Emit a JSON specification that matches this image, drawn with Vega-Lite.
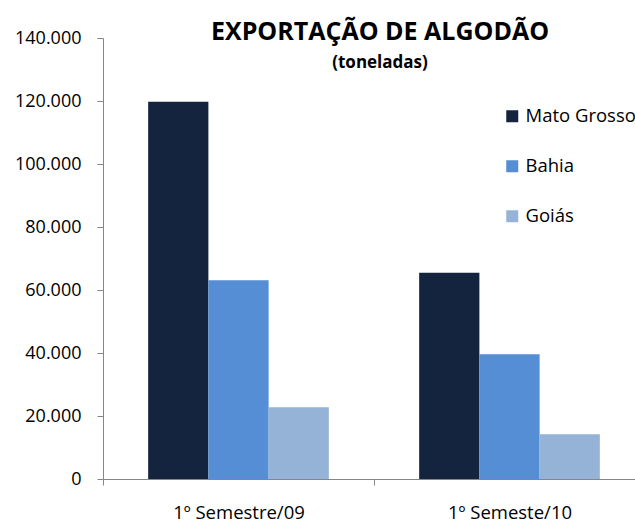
{
  "$schema": "https://vega.github.io/schema/vega-lite/v6.json",
  "width": 542,
  "height": 441,
  "autosize": "none",
  "padding": {"left": 103, "top": 38, "right": 0, "bottom": 46},
  "background": "white",
  "config": {
    "font": "Open Sans",
    "view": {"stroke": null},
    "locale": {"number": {"decimal": ",", "thousands": ".", "grouping": [3], "currency": ["R$", ""]}}
  },
  "title": {
    "text": "EXPORTAÇÃO DE ALGODÃO",
    "subtitle": "(toneladas)",
    "fontSize": 25,
    "fontWeight": "bold",
    "color": "black",
    "subtitleFontSize": 17,
    "subtitleFontWeight": "bold",
    "subtitleColor": "black",
    "subtitlePadding": 10,
    "anchor": "middle",
    "dx": 6,
    "offset": -42
  },
  "data": {
    "values": [
      {"periodo": "1º Semestre/09", "estado": "Mato Grosso", "toneladas": 119800},
      {"periodo": "1º Semestre/09", "estado": "Bahia", "toneladas": 63100},
      {"periodo": "1º Semestre/09", "estado": "Goiás", "toneladas": 22800},
      {"periodo": "1º Semeste/10", "estado": "Mato Grosso", "toneladas": 65500},
      {"periodo": "1º Semeste/10", "estado": "Bahia", "toneladas": 39600},
      {"periodo": "1º Semeste/10", "estado": "Goiás", "toneladas": 14200}
    ]
  },
  "mark": {"type": "bar"},
  "encoding": {
    "x": {
      "field": "periodo",
      "type": "nominal",
      "sort": null,
      "title": null,
      "scale": {"paddingInner": 0, "paddingOuter": 0},
      "axis": {
        "labelAngle": 0,
        "labelFontSize": 18.5,
        "labelColor": "black",
        "labelPadding": 18,
        "domainColor": "#868686",
        "tickColor": "#868686",
        "tickSize": 6,
        "tickBand": "extent"
      }
    },
    "xOffset": {
      "field": "estado",
      "sort": ["Mato Grosso", "Bahia", "Goiás"],
      "scale": {"paddingInner": 0, "paddingOuter": 0.75}
    },
    "y": {
      "field": "toneladas",
      "type": "quantitative",
      "title": null,
      "scale": {"domain": [0, 140000], "nice": false},
      "axis": {
        "values": [0, 20000, 40000, 60000, 80000, 100000, 120000, 140000],
        "format": ",d",
        "grid": false,
        "labelFontSize": 18,
        "labelColor": "black",
        "labelPadding": 16,
        "domainColor": "#868686",
        "tickColor": "#868686",
        "tickSize": 6
      }
    },
    "color": {
      "field": "estado",
      "type": "nominal",
      "sort": ["Mato Grosso", "Bahia", "Goiás"],
      "scale": {"domain": ["Mato Grosso", "Bahia", "Goiás"], "range": ["#14243f", "#558ed5", "#95b3d7"]},
      "legend": {
        "title": null,
        "orient": "none",
        "legendX": 400,
        "legendY": 69,
        "symbolType": "square",
        "symbolSize": 144,
        "symbolStrokeWidth": 0,
        "labelFontSize": 18.5,
        "labelColor": "black",
        "labelOffset": 4,
        "rowPadding": 31
      }
    }
  }
}
